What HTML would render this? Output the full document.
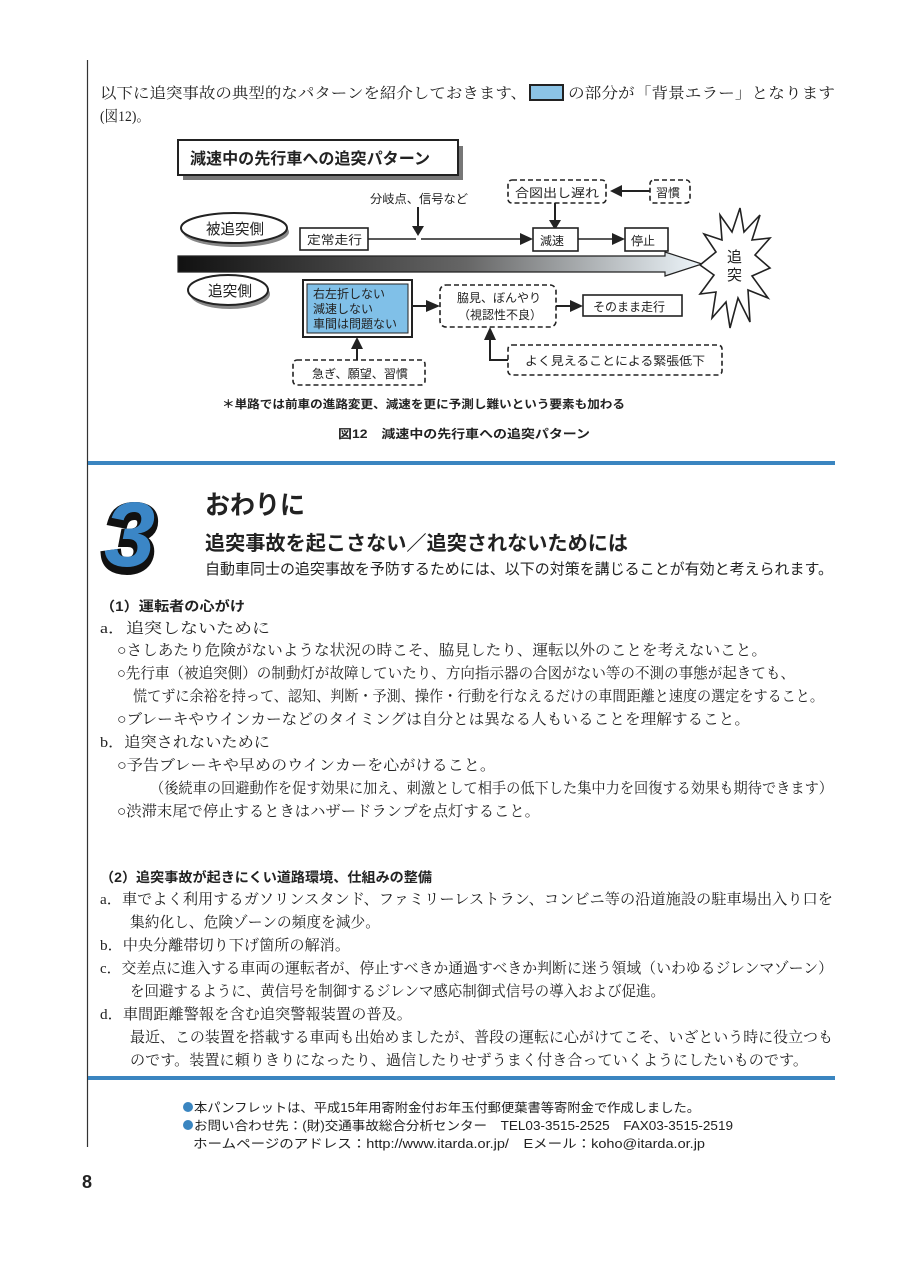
<!DOCTYPE html>
<html><head><meta charset="utf-8"><style>
html,body{margin:0;padding:0;background:#fff;}
svg{display:block}
.s{font-family:"Liberation Serif","Noto Serif CJK SC",serif;font-size:15px;fill:#222}
.g{font-family:"Liberation Sans","Noto Sans CJK JP",sans-serif;fill:#222}
</style></head><body>
<svg width="905" height="1280" viewBox="0 0 905 1280" xmlns="http://www.w3.org/2000/svg">
<defs>
<linearGradient id="ar" x1="0" x2="1" y1="0" y2="0"><stop offset="0" stop-color="#111"/><stop offset="0.55" stop-color="#666"/><stop offset="1" stop-color="#eef6fb"/></linearGradient>
</defs>
<line x1="87.5" y1="60" x2="87.5" y2="1147" stroke="#333" stroke-width="1.2"/>
<text class="s" x="100" y="98" textLength="427" lengthAdjust="spacingAndGlyphs">以下に追突事故の典型的なパターンを紹介しておきます、</text>
<rect x="530" y="85" width="33" height="15" fill="#8cc4e6" stroke="#222" stroke-width="2"/>
<text class="s" x="568" y="98" textLength="267" lengthAdjust="spacingAndGlyphs">の部分が「背景エラー」となります</text>
<text class="s" x="100" y="121" textLength="50" lengthAdjust="spacingAndGlyphs">(図12)。</text>

<!-- diagram -->
<rect x="183" y="146" width="280" height="34" fill="#777"/>
<rect x="178" y="140" width="280" height="35" fill="#fff" stroke="#222" stroke-width="2"/>
<text class="g" x="190" y="164" font-size="16" font-weight="bold" textLength="240" lengthAdjust="spacingAndGlyphs">減速中の先行車への追突パターン</text>
<text class="g" x="370" y="203" font-size="12" textLength="98" lengthAdjust="spacingAndGlyphs">分岐点、信号など</text>
<line x1="418" y1="207" x2="418" y2="228" stroke="#222" stroke-width="2"/><polygon points="412,226 424,226 418,236" fill="#222"/>
<rect x="508" y="180" width="98" height="23" rx="4" fill="#fff" stroke="#222" stroke-width="1.6" stroke-dasharray="5,3"/>
<text class="g" x="515" y="197" font-size="12" textLength="84" lengthAdjust="spacingAndGlyphs">合図出し遅れ</text>
<rect x="650" y="180" width="40" height="23" rx="4" fill="#fff" stroke="#222" stroke-width="1.6" stroke-dasharray="5,3"/>
<text class="g" x="656" y="197" font-size="12">習慣</text>
<line x1="650" y1="191" x2="620" y2="191" stroke="#222" stroke-width="2"/><polygon points="622,185 622,197 610,191" fill="#222"/>
<line x1="555" y1="203" x2="555" y2="222" stroke="#222" stroke-width="2"/><polygon points="549,220 561,220 555,230" fill="#222"/>

<ellipse cx="236" cy="232" rx="53" ry="15" fill="#888"/>
<ellipse cx="234" cy="228" rx="53" ry="15" fill="#fff" stroke="#222" stroke-width="2"/>
<text class="g" x="206" y="234" font-size="15" textLength="58" lengthAdjust="spacingAndGlyphs">被追突側</text>
<rect x="300" y="228" width="68" height="22" fill="#fff" stroke="#222" stroke-width="1.6"/>
<text class="g" x="307" y="244" font-size="12" textLength="55" lengthAdjust="spacingAndGlyphs">定常走行</text>
<line x1="368" y1="239" x2="416" y2="239" stroke="#222" stroke-width="1.6"/>
<line x1="421" y1="239" x2="522" y2="239" stroke="#222" stroke-width="1.6"/><polygon points="520,233 520,245 533,239" fill="#222"/>
<rect x="533" y="228" width="45" height="23" fill="#fff" stroke="#222" stroke-width="1.6"/>
<text class="g" x="540" y="245" font-size="12">減速</text>
<line x1="578" y1="239" x2="614" y2="239" stroke="#222" stroke-width="1.6"/><polygon points="612,233 612,245 625,239" fill="#222"/>
<rect x="625" y="228" width="43" height="23" fill="#fff" stroke="#222" stroke-width="1.6"/>
<text class="g" x="631" y="245" font-size="12">停止</text>

<polygon points="178,256 665,256 665,252 702,264 665,276 665,272 178,272" fill="url(#ar)" stroke="#222" stroke-width="1.2"/>
<polygon points="740,208 744,232 760,215 752,240 770,238 755,255 770,268 752,276 768,298 748,290 750,322 738,298 730,328 726,302 712,318 716,292 700,294 714,275 700,265 716,252 704,234 722,240 720,215 732,232" fill="#fff" stroke="#222" stroke-width="1.6"/>
<text class="g" x="727" y="262" font-size="15">追</text>
<text class="g" x="727" y="280" font-size="15">突</text>

<ellipse cx="230" cy="294" rx="40" ry="15" fill="#888"/>
<ellipse cx="228" cy="290" rx="40" ry="15" fill="#fff" stroke="#222" stroke-width="2"/>
<text class="g" x="208" y="296" font-size="15" textLength="44" lengthAdjust="spacingAndGlyphs">追突側</text>
<rect x="303" y="280" width="109" height="57" fill="#fff" stroke="#222" stroke-width="2"/>
<rect x="307" y="284" width="101" height="49" fill="#80c0e8" stroke="#222" stroke-width="1"/>
<text class="g" x="313" y="298" font-size="12">右左折しない</text>
<text class="g" x="313" y="313" font-size="12">減速しない</text>
<text class="g" x="313" y="328" font-size="12">車間は問題ない</text>
<line x1="412" y1="306" x2="428" y2="306" stroke="#222" stroke-width="2"/><polygon points="426,300 426,312 440,306" fill="#222"/>
<rect x="440" y="285" width="116" height="42" rx="6" fill="#fff" stroke="#222" stroke-width="1.6" stroke-dasharray="5,3"/>
<text class="g" x="457" y="302" font-size="12">脇見、ぼんやり</text>
<text class="g" x="458" y="319" font-size="12">（視認性不良）</text>
<line x1="556" y1="306" x2="572" y2="306" stroke="#222" stroke-width="2"/><polygon points="570,300 570,312 583,306" fill="#222"/>
<rect x="583" y="295" width="99" height="21" fill="#fff" stroke="#222" stroke-width="1.6"/>
<text class="g" x="593" y="311" font-size="12">そのまま走行</text>
<rect x="293" y="360" width="132" height="25" rx="4" fill="#fff" stroke="#222" stroke-width="1.6" stroke-dasharray="5,3"/>
<text class="g" x="312" y="378" font-size="12" textLength="96" lengthAdjust="spacingAndGlyphs">急ぎ、願望、習慣</text>
<line x1="357" y1="360" x2="357" y2="347" stroke="#222" stroke-width="2"/><polygon points="351,349 363,349 357,337" fill="#222"/>
<rect x="508" y="345" width="214" height="30" rx="4" fill="#fff" stroke="#222" stroke-width="1.6" stroke-dasharray="5,3"/>
<text class="g" x="525" y="365" font-size="12" textLength="180" lengthAdjust="spacingAndGlyphs">よく見えることによる緊張低下</text>
<polyline points="508,360 490,360 490,338" fill="none" stroke="#222" stroke-width="2"/><polygon points="484,340 496,340 490,327" fill="#222"/>
<text class="g" x="222" y="408" font-size="11.5" font-weight="bold" textLength="403" lengthAdjust="spacingAndGlyphs">＊単路では前車の進路変更、減速を更に予測し難いという要素も加わる</text>
<text class="g" x="338" y="438" font-size="12" font-weight="bold" textLength="252" lengthAdjust="spacingAndGlyphs">図12　減速中の先行車への追突パターン</text>

<rect x="88" y="461" width="747" height="4" fill="#3a85c0"/>

<!-- section 3 -->
<text x="104" y="570" font-family="Liberation Sans,sans-serif" font-size="92" font-weight="bold" font-style="italic" fill="#111" stroke="#111" stroke-width="8">3</text>
<text x="104" y="566" font-family="Liberation Sans,sans-serif" font-size="92" font-weight="bold" font-style="italic" fill="#3b86c6">3</text>
<text class="g" x="205" y="514" font-size="26" font-weight="bold" textLength="100" lengthAdjust="spacingAndGlyphs">おわりに</text>
<text class="g" x="205" y="550" font-size="20" font-weight="bold" textLength="423" lengthAdjust="spacingAndGlyphs">追突事故を起こさない／追突されないためには</text>
<text class="g" x="205" y="574" font-size="15" textLength="628" lengthAdjust="spacingAndGlyphs">自動車同士の追突事故を予防するためには、以下の対策を講じることが有効と考えられます。</text>

<text class="g" x="100" y="611" font-size="13.5" font-weight="bold" textLength="145" lengthAdjust="spacingAndGlyphs">（1）運転者の心がけ</text>
<g class="s">
<text x="100" y="633" textLength="170" lengthAdjust="spacingAndGlyphs">a．追突しないために</text>
<text x="117" y="655" textLength="650" lengthAdjust="spacingAndGlyphs">○さしあたり危険がないような状況の時こそ、脇見したり、運転以外のことを考えないこと。</text>
<text x="117" y="678" textLength="678" lengthAdjust="spacingAndGlyphs">○先行車（被追突側）の制動灯が故障していたり、方向指示器の合図がない等の不測の事態が起きても、</text>
<text x="133" y="701" textLength="691" lengthAdjust="spacingAndGlyphs">慌てずに余裕を持って、認知、判断・予測、操作・行動を行なえるだけの車間距離と速度の選定をすること。</text>
<text x="117" y="724" textLength="633" lengthAdjust="spacingAndGlyphs">○ブレーキやウインカーなどのタイミングは自分とは異なる人もいることを理解すること。</text>
<text x="100" y="747" textLength="170" lengthAdjust="spacingAndGlyphs">b．追突されないために</text>
<text x="117" y="770" textLength="379" lengthAdjust="spacingAndGlyphs">○予告ブレーキや早めのウインカーを心がけること。</text>
<text x="150" y="793" textLength="683" lengthAdjust="spacingAndGlyphs">（後続車の回避動作を促す効果に加え、刺激として相手の低下した集中力を回復する効果も期待できます）</text>
<text x="117" y="816" textLength="423" lengthAdjust="spacingAndGlyphs">○渋滞末尾で停止するときはハザードランプを点灯すること。</text>
</g>
<text class="g" x="100" y="882" font-size="13.5" font-weight="bold" textLength="332" lengthAdjust="spacingAndGlyphs">（2）追突事故が起きにくい道路環境、仕組みの整備</text>
<g class="s">
<text x="100" y="904" textLength="733" lengthAdjust="spacingAndGlyphs">a．車でよく利用するガソリンスタンド、ファミリーレストラン、コンビニ等の沿道施設の駐車場出入り口を</text>
<text x="130" y="927" textLength="250" lengthAdjust="spacingAndGlyphs">集約化し、危険ゾーンの頻度を減少。</text>
<text x="100" y="950" textLength="250" lengthAdjust="spacingAndGlyphs">b．中央分離帯切り下げ箇所の解消。</text>
<text x="100" y="973" textLength="733" lengthAdjust="spacingAndGlyphs">c．交差点に進入する車両の運転者が、停止すべきか通過すべきか判断に迷う領域（いわゆるジレンマゾーン）</text>
<text x="130" y="996" textLength="535" lengthAdjust="spacingAndGlyphs">を回避するように、黄信号を制御するジレンマ感応制御式信号の導入および促進。</text>
<text x="100" y="1019" textLength="312" lengthAdjust="spacingAndGlyphs">d．車間距離警報を含む追突警報装置の普及。</text>
<text x="130" y="1042" textLength="703" lengthAdjust="spacingAndGlyphs">最近、この装置を搭載する車両も出始めましたが、普段の運転に心がけてこそ、いざという時に役立つも</text>
<text x="130" y="1065" textLength="678" lengthAdjust="spacingAndGlyphs">のです。装置に頼りきりになったり、過信したりせずうまく付き合っていくようにしたいものです。</text>
</g>
<rect x="88" y="1076" width="747" height="4" fill="#3a85c0"/>

<circle cx="188" cy="1107" r="5" fill="#3a85c0"/>
<text class="g" x="194" y="1112" font-size="12.5" textLength="506" lengthAdjust="spacingAndGlyphs">本パンフレットは、平成15年用寄附金付お年玉付郵便葉書等寄附金で作成しました。</text>
<circle cx="188" cy="1125" r="5" fill="#3a85c0"/>
<text class="g" x="194" y="1130" font-size="12.5" textLength="539" lengthAdjust="spacingAndGlyphs">お問い合わせ先：(財)交通事故総合分析センター　TEL03-3515-2525　FAX03-3515-2519</text>
<text class="g" x="193" y="1148" font-size="12.5" textLength="512" lengthAdjust="spacingAndGlyphs">ホームページのアドレス：http://www.itarda.or.jp/　Eメール：koho@itarda.or.jp</text>
<text class="g" x="82" y="1188" font-size="18" font-weight="bold">8</text>
</svg>
</body></html>
